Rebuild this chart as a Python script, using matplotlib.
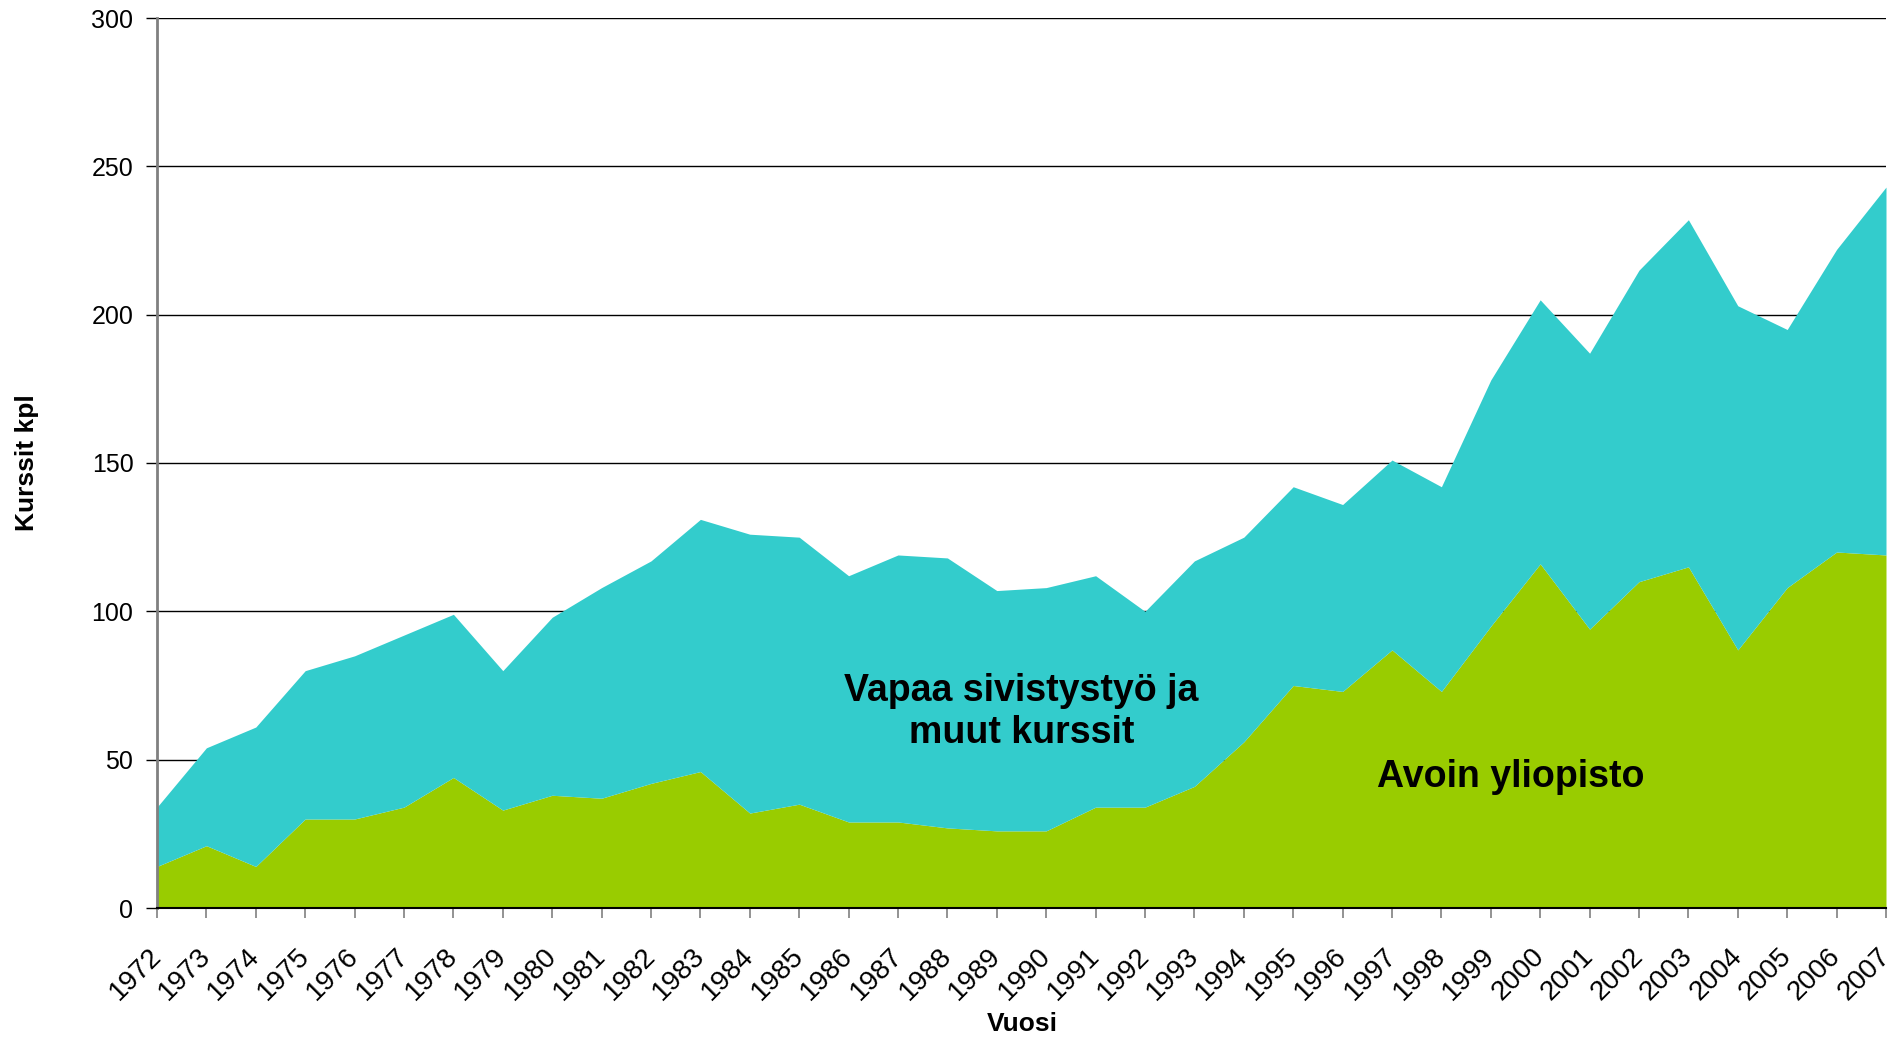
import numpy as np
import matplotlib
matplotlib.use("Agg")
import matplotlib.pyplot as plt
from matplotlib.transforms import ScaledTranslation

plt.rcParams['font.family'] = ['Liberation Sans', 'DejaVu Sans']

vuodet = list(range(1972, 2008))

# Avoin yliopisto (alempi alue)
avoin = [14, 21, 14, 30, 30, 34, 44, 33, 38, 37, 42, 46, 32, 35, 29, 29, 27, 26,
         26, 34, 34, 41, 56, 75, 73, 87, 73, 95, 116, 94, 110, 115, 87, 108, 120, 119]

# kaikki kurssit yhteensä (ylempi reuna)
yhteensa = [34, 54, 61, 80, 85, 92, 99, 80, 98, 108, 117, 131, 126, 125, 112, 119, 118, 107,
            108, 112, 100, 117, 125, 142, 136, 151, 142, 178, 205, 187, 215, 232, 203, 195, 222, 243]

vihrea = '#99CC00'
turkoosi = '#33CCCC'

fig = plt.figure(figsize=(18.96, 10.40), dpi=100)
ax = fig.add_axes([157/1896, 1 - 908/1040, (1886-157)/1896, (908-18)/1040])

x = np.arange(len(vuodet))
ax.fill_between(x, 0, avoin, color=vihrea, linewidth=0, zorder=2)
ax.fill_between(x, avoin, yhteensa, color=turkoosi, linewidth=0, zorder=2)

ax.set_xlim(0, len(vuodet) - 1)
ax.set_ylim(0, 300)
ax.set_yticks(range(0, 301, 50))
ax.set_xticks(x)
ax.tick_params(axis='y', labelsize=18, length=8, width=1, color='black', pad=9)
ax.tick_params(axis='x', length=7, width=1.2, color='#808080', pad=0)
ax.set_xticklabels([str(v) for v in vuodet], rotation=45, ha='right', va='top',
                   rotation_mode='anchor', fontsize=20)
# vuosiluvut hieman alas ja vasemmalle kuten alkuperäisessä
siirto = ScaledTranslation(-9/100, -25/100, fig.dpi_scale_trans)
for t in ax.get_xticklabels():
    t.set_transform(t.get_transform() + siirto)

ax.grid(axis='y', color='black', linewidth=1, zorder=1)
ax.set_axisbelow(True)

for s in ['top', 'right']:
    ax.spines[s].set_visible(False)
ax.spines['left'].set_color('#808080')
ax.spines['left'].set_linewidth(2)
ax.spines['bottom'].set_color('black')
ax.spines['bottom'].set_linewidth(1.5)
ax.spines['bottom'].set_zorder(3)

ax.set_xlabel('Vuosi', fontsize=19, fontweight='bold')
ax.set_ylabel('Kurssit kpl', fontsize=19, fontweight='bold')
ax.xaxis.set_label_coords((1022-157)/(1886-157), -0.130)
ax.yaxis.set_label_coords((27-157)/(1886-157), 0.5)
ax.xaxis.label.set_va('center')
ax.yaxis.label.set_va('center')

ax.text(17.5, 66, 'Vapaa sivistystyö ja\nmuut kurssit', fontsize=27, fontweight='bold',
        ha='center', va='center', linespacing=1.2, zorder=4)
ax.text(27.4, 44, 'Avoin yliopisto', fontsize=27, fontweight='bold',
        ha='center', va='center', zorder=4)

fig.savefig('out.png', dpi=100)
